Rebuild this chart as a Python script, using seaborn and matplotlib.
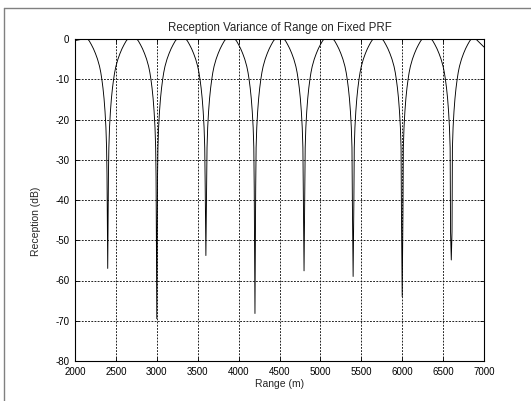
import numpy as np
import pandas as pd
import matplotlib
matplotlib.use("Agg")
import matplotlib.pyplot as plt
import seaborn as sns
from matplotlib.lines import Line2D

# ---- data ----
notch_range = [2400, 3000, 3600, 4200, 4800, 5400, 6000, 6600]          # m
notch_floor_db = [-57.0, -69.5, -53.8, -68.2, -57.6, -59.0, -64.0, -54.9]
notch_shoulder_db = [-33.4, -34.2, -35.4, -36.9, -38.3, -40.8, -43.7, -47.9]
# half-lobe profile (distance from notch in m -> dB)
lobe_offset_m = [300, 245, 225, 200, 175, 150, 125, 100, 85, 72, 58, 45, 33, 22, 14]
lobe_db = [0.0, 0.0, -0.5, -1.4, -2.4, -3.6, -5.0, -6.8, -8.3, -10.0, -12.2, -14.8, -18.0, -22.0, -27.0]
shoulder_offset_m = 9
edge_range = [2000, 7000]
edge_db = [-0.4, -2.0]

xticks = [2000, 2500, 3000, 3500, 4000, 4500, 5000, 5500, 6000, 6500, 7000]
yticks = [-80, -70, -60, -50, -40, -30, -20, -10, 0]

# ---- assemble the curve from the read values ----
xs, ys = [edge_range[0]], [edge_db[0]]
for n, deep, sh in zip(notch_range, notch_floor_db, notch_shoulder_db):
    for off, v in zip(lobe_offset_m, lobe_db):
        if n - off > xs[-1]:
            xs.append(n - off); ys.append(v)
    xs += [n - shoulder_offset_m, n, n + shoulder_offset_m]
    ys += [sh, deep, sh]
    for off, v in zip(lobe_offset_m[::-1], lobe_db[::-1]):
        xs.append(n + off); ys.append(v)
xs.append(edge_range[1]); ys.append(edge_db[1])
df = pd.DataFrame({"Range": xs, "Reception": ys})

# ---- style ----
sns.set_style("ticks")
plt.rcParams["font.family"] = ["Liberation Sans", "DejaVu Sans"]
plt.rcParams["axes.unicode_minus"] = False

fig = plt.figure(figsize=(5.31, 4.01), dpi=100)
ax = fig.add_axes([75/531, 1 - 361/401, (484-75)/531, (361-39)/401])

sns.lineplot(data=df, x="Range", y="Reception", ax=ax, color="black",
             linewidth=0.65, estimator=None, sort=False)

ax.set_xlim(2000, 7000)
ax.set_ylim(-80, 0)
ax.set_xticks(xticks)
ax.set_yticks(yticks)
ax.set_xticklabels([str(t) for t in xticks])
ax.set_yticklabels([str(t) for t in yticks])
ax.tick_params(direction="in", length=3, width=0.6, colors="black",
               labelsize=7, top=True, right=True, pad=4)
ax.grid(True, color="black", linestyle=(0, (2.2, 1.6)), linewidth=0.6)
for s in ax.spines.values():
    s.set_visible(True)
    s.set_color("black")
    s.set_linewidth(0.8)

ax.set_title("Reception Variance of Range on Fixed PRF", fontsize=8.3, pad=6)
ax.set_xlabel("Range (m)", fontsize=7.5, labelpad=2)
ax.set_ylabel("Reception (dB)", fontsize=7.5)
ax.yaxis.set_label_coords(-0.082, 0.433)

# figure window frame (left and top edges visible in reference)
fig.add_artist(Line2D([4/531, 4/531], [0, 1 - 8/401], transform=fig.transFigure,
                      color="#808080", linewidth=1.0))
fig.add_artist(Line2D([4/531, 1], [1 - 8/401, 1 - 8/401], transform=fig.transFigure,
                      color="#808080", linewidth=1.0))

fig.savefig("out.png", dpi=100, facecolor="white")
